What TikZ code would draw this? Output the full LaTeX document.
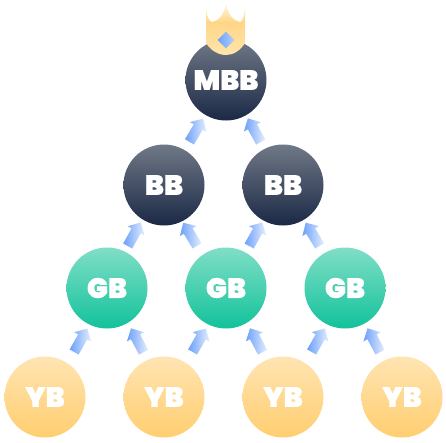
\documentclass[tikz,border=0pt]{standalone}
\usepackage{fontspec}
\usepackage{tikz}
\usetikzlibrary{shapes.arrows,shapes.geometric}
\newfontfamily\badgefont[RawFeature={embolden=0.4}]{Poppins Black}
\definecolor{bkdark}{RGB}{27,41,70}
\definecolor{bklight}{RGB}{112,120,134}
\definecolor{gbdark}{RGB}{18,194,155}
\definecolor{gblight}{RGB}{128,222,198}
\definecolor{ybdark}{RGB}{255,206,112}
\definecolor{yblight}{RGB}{255,228,178}
\definecolor{arrowblue}{RGB}{108,160,250}
\definecolor{arrowpale}{RGB}{230,239,254}
\definecolor{crowngold}{RGB}{255,214,135}
\definecolor{crownpale}{RGB}{255,246,222}
\definecolor{crownlow}{RGB}{255,229,172}
\pgfdeclareverticalshading{crownfade}{100bp}{color(0bp)=(crownlow); color(25bp)=(crownlow); color(57bp)=(crowngold); color(75bp)=(crownpale); color(100bp)=(crownpale)}
\tikzset{
  badge/.style={circle,minimum size=81pt,inner sep=0pt,text=white,font=\badgefont\fontsize{28}{28}\selectfont},
  bb/.style={badge,top color=bklight,bottom color=bkdark},
  gb/.style={badge,top color=gblight,bottom color=gbdark},
  yb/.style={badge,top color=yblight,bottom color=ybdark},
  uparrow/.style={single arrow,minimum height=27pt,single arrow head extend=4.5pt,inner xsep=0pt,inner ysep=5pt,
    left color=arrowblue,right color=arrowpale,sloped,allow upside down,midway},
}
\begin{document}
\begin{tikzpicture}[x=1pt,y=-1pt]
    \useasboundingbox (0,0) rectangle (446,442);
    \node[bb] (mbb) at (226,80) {MBB};
    \node[bb] (bbl) at (164,185) {BB};
    \node[bb] (bbr) at (283,185) {BB};
    \node[gb] (gbl) at (107,288) {GB};
    \node[gb] (gbm) at (226,288) {GB};
    \node[gb] (gbr) at (345,288) {GB};
    \node[yb] (yba) at (45,397) {YB};
    \node[yb] (ybb) at (164,397) {YB};
    \node[yb] (ybc) at (283,397) {YB};
    \node[yb] (ybd) at (402,397) {YB};
    \foreach \from/\to/\dx in {bbl/mbb/0,bbr/mbb/1,gbl/bbl/-2.5,gbm/bbl/-3.5,gbm/bbr/0,gbr/bbr/0,yba/gbl/3.5,ybb/gbl/3,ybb/gbm/3,ybc/gbm/3,ybc/gbr/3,ybd/gbr/1.5}{
      \path ([xshift=\dx pt]\from.center) -- ([xshift=\dx pt]\to.center) node[uparrow] {};
    }
    % crown
    \shade[shading=crownfade]
      (206,5) .. controls (206,14) and (208,21) .. (212,22)
      .. controls (219,21) and (224,14) .. (226,4)
      .. controls (228,14) and (233,21) .. (240,22)
      .. controls (243,21) and (245,14) .. (245,5)
      -- (245,43) .. controls (240,51) and (233,55) .. (226,55)
      .. controls (219,55) and (211,51) .. (206,43) -- cycle;
    \node[diamond,minimum size=17pt,inner sep=0pt,left color=arrowblue,right color=arrowpale!60!arrowblue] (gem) at (226,40) {};
\end{tikzpicture}
\end{document}
